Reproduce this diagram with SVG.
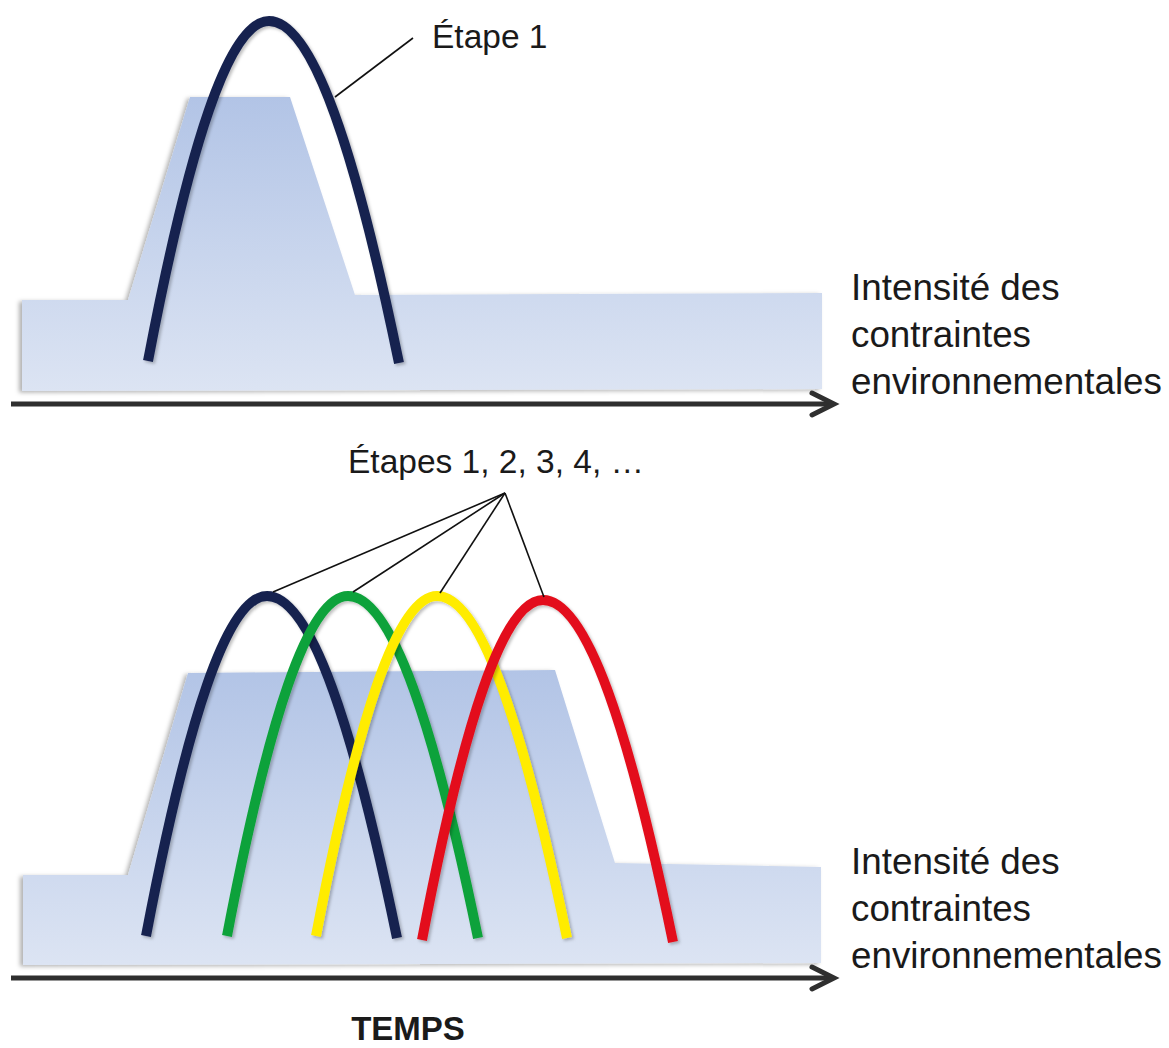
<svg xmlns="http://www.w3.org/2000/svg" xmlns:xlink="http://www.w3.org/1999/xlink" width="1169" height="1048" viewBox="0 0 1169 1048">
  <style>
    .lbl { font-family: "Liberation Sans", Arial, sans-serif; fill: #1a1a1a; }
    .step { font-size: 33.5px; }
    .side { font-size: 36.8px; }
    .axis-title { font-size: 33px; font-weight: bold; }
    .arch { fill: none; stroke-width: 10; stroke-linecap: butt; filter: url(#archShadow); }
    .axis { fill: none; stroke: #2f2f2f; stroke-width: 5; }
    .axis-head { fill: none; stroke: #2f2f2f; stroke-width: 5; stroke-linecap: round; stroke-linejoin: miter; }
    .leader { fill: none; stroke: #111; stroke-width: 1.6; }
    .ground { filter: url(#groundShadow); }
  </style>
  <defs>
    <linearGradient id="gTop" x1="0" y1="97" x2="0" y2="391" gradientUnits="userSpaceOnUse">
      <stop offset="0" stop-color="#b2c4e6"/>
      <stop offset="1" stop-color="#dce4f3"/>
    </linearGradient>
    <linearGradient id="gBottom" x1="0" y1="670" x2="0" y2="965" gradientUnits="userSpaceOnUse">
      <stop offset="0" stop-color="#b2c4e6"/>
      <stop offset="1" stop-color="#dce4f3"/>
    </linearGradient>
    <filter id="groundShadow" x="-5%" y="-5%" width="110%" height="115%">
      <feDropShadow dx="-3" dy="1.5" stdDeviation="2" flood-color="#000" flood-opacity="0.3"/>
    </filter>
    <filter id="archShadow" x="-10%" y="-10%" width="120%" height="120%">
      <feDropShadow dx="2" dy="2" stdDeviation="1.5" flood-color="#000" flood-opacity="0.25"/>
    </filter>
    <!-- one arch, peak at the origin -->
    <path id="arch" d="M -121,340 C -80,125 -40,0 0,0 C 43,0 86,128 130,342"/>
  </defs>

  <!-- upper panel: a single stage -->
  <g id="panel-top">
    <path class="ground" fill="url(#gTop)" d="M 22,300 L 128,300 L 190,97 L 290,97 L 355,295 L 822,293 L 822,389 L 22,391 Z"/>
    <g id="stage-1-top">
      <use xlink:href="#arch" href="#arch" class="arch" stroke="#17234f" transform="translate(269,21)"/>
    </g>
    <g id="axis-top">
      <line class="axis" x1="11" y1="404" x2="832" y2="404"/>
      <polyline class="axis-head" points="812,393 834,404 812,415"/>
    </g>
    <g id="label-etape-1">
      <text class="lbl step" x="432" y="48">Étape 1</text>
    </g>
    <g id="label-intensity-top">
      <text class="lbl side" x="851" y="300">Intensité des</text>
      <text class="lbl side" x="851" y="347">contraintes</text>
      <text class="lbl side" x="851" y="394">environnementales</text>
    </g>
  </g>

  <!-- lower panel: successive stages -->
  <g id="panel-bottom">
    <path class="ground" fill="url(#gBottom)" d="M 23,875 L 128,875 L 188,673 L 555,670 L 615,863 L 821,867 L 821,963 L 23,965 Z"/>
    <g id="stage-1">
      <use xlink:href="#arch" href="#arch" class="arch" stroke="#17234f" transform="translate(267,596)"/>
    </g>
    <g id="stage-2">
      <use xlink:href="#arch" href="#arch" class="arch" stroke="#11a23b" transform="translate(348,596)"/>
    </g>
    <g id="stage-3">
      <use xlink:href="#arch" href="#arch" class="arch" stroke="#ffec00" transform="translate(437,596)"/>
    </g>
    <g id="stage-4">
      <use xlink:href="#arch" href="#arch" class="arch" stroke="#e3101b" transform="translate(543,600)"/>
    </g>
    <g id="axis-bottom">
      <line class="axis" x1="11" y1="978" x2="832" y2="978"/>
      <polyline class="axis-head" points="812,967 834,978 812,989"/>
    </g>
    <g id="label-etapes">
      <text class="lbl step" x="348" y="473">Étapes 1, 2, 3, 4, …</text>
    </g>
    <g id="label-intensity-bottom">
      <text class="lbl side" x="851" y="874">Intensité des</text>
      <text class="lbl side" x="851" y="921">contraintes</text>
      <text class="lbl side" x="851" y="968">environnementales</text>
    </g>
    <g id="label-temps">
      <text class="lbl axis-title" x="408" y="1040" text-anchor="middle">TEMPS</text>
    </g>
  </g>

  <!-- leader lines from labels to the arch peaks -->
  <g id="connectors">
    <line class="leader" x1="413" y1="38" x2="335" y2="97"/>
    <line class="leader" x1="505" y1="493" x2="273" y2="592"/>
    <line class="leader" x1="505" y1="493" x2="353" y2="592"/>
    <line class="leader" x1="505" y1="493" x2="440" y2="593"/>
    <line class="leader" x1="505" y1="493" x2="544" y2="597"/>
  </g>
</svg>
